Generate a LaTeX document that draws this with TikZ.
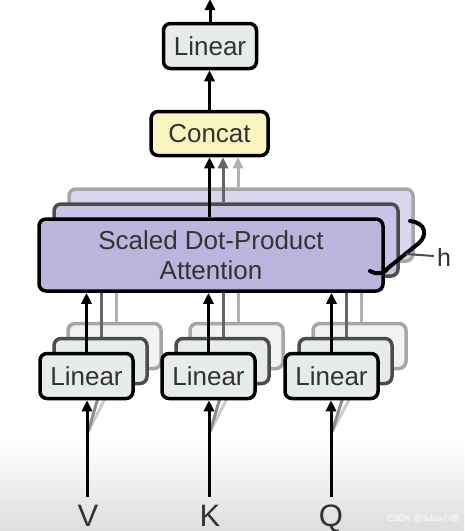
\documentclass[tikz,border=0pt]{standalone}
\usepackage{fontspec}
\setmainfont{Liberation Sans}
\newfontfamily\cjk{Noto Sans CJK SC}
\usetikzlibrary{arrows.meta,calc}
\definecolor{linfill}{HTML}{E7EBEA}
\definecolor{catfill}{HTML}{FAF5BE}
\definecolor{attfill}{HTML}{BBB4DD}
\definecolor{attfillb}{HTML}{C9C3E6}
\definecolor{attfillc}{HTML}{DAD6EF}
\definecolor{txt}{HTML}{333333}
\begin{document}
\begin{tikzpicture}[x=1pt,y=-1pt,
  boxbase/.style={rounded corners=7pt, line width=3.5pt, inner sep=0pt, align=center,
    font=\fontsize{26}{30}\selectfont, text=txt},
  linbox/.style={boxbase, draw=black, fill=linfill, minimum width=93pt, minimum height=45pt},
  linboxb/.style={linbox, draw=black!70},
  linboxc/.style={linbox, draw=black!35, fill=linfill!60},
  catbox/.style={boxbase, draw=black, fill=catfill, minimum width=117pt, minimum height=44pt},
  attbox/.style={boxbase, draw=black, fill=attfill, minimum width=344pt, minimum height=72pt},
  attboxb/.style={attbox, draw=black!70, fill=attfillb},
  attboxc/.style={attbox, draw=black!35, fill=attfillc},
  arr/.style={line width=3pt, -{Triangle[length=11pt,width=10pt]}},
  arrb/.style={arr, draw=black!60},
  arrc/.style={arr, draw=black!30},
  ghost/.style={line width=3pt, draw=black!60},
  ghostc/.style={line width=3pt, draw=black!30},
  lbl/.style={font=\fontsize{31}{31}\selectfont, text=txt, anchor=base, inner sep=0pt}
]
\useasboundingbox (0,0) rectangle (464,531);
\shade[top color=white, bottom color=black!13] (0,440) rectangle (464,531);

% positions
\coordinate (pV) at (86.5,376);
\coordinate (pK) at (208.5,376);
\coordinate (pQ) at (331.5,376);
\coordinate (pA) at (211,255);

% attention shadows
\node[attboxc] (att3) at ($(pA)+(30,-30)$) {};
\node[attboxb] (att2) at ($(pA)+(15,-15)$) {};

% ghost lines from linear shadows up to attention (behind front attention box)
\foreach \p in {pV,pK,pQ}{
  \draw[ghostc] ($(\p)+(30,-52)$) -- ($(\p)+(30,-90)$);
  \draw[ghost]  ($(\p)+(15,-37)$) -- ($(\p)+(15,-90)$);
}

% front attention
\node[attbox] (att) at (pA) {Scaled Dot-Product\\Attention};

% concat and top linear
\node[catbox] (cat) at (209.5,133.5) {Concat};
\node[linbox] (top) at (210,46) {Linear};
\coordinate (out) at (210,-1);

% arrows attention -> concat
\draw[arrc] ($(att3.north)+(-3,0)$) -- ($(cat.south)+(28.5,0)$);
\draw[arrb] ($(att2.north)+(-3,0)$) -- ($(cat.south)+(13.5,0)$);
\draw[arr] (att.north -| cat.south) -- (cat.south);
\draw[arr] (cat.north) -- (cat.north |- top.south);
\draw[arr] (top.north) -- (out);

% inputs
\coordinate (inV) at (87,497);
\coordinate (inK) at (209,497);
\coordinate (inQ) at (331,497);

% linear boxes with shadows
\foreach \p/\n/\i in {pV/V/inV, pK/K/inK, pQ/Q/inQ}{
  \draw[line width=3pt, draw=black!20] ($(\i)+(1,-65)$) -- ($(\p)+(30,0)$);
  \draw[line width=3pt, draw=black!45] ($(\i)+(1,-65)$) -- ($(\p)+(15,10)$);
  \node[linboxc] (lin\n3) at ($(\p)+(28,-30)$) {};
  \node[linboxb] (lin\n2) at ($(\p)+(14,-15)$) {};
  \node[linbox]  (lin\n)  at (\p) {Linear};
}

% arrows linear -> attention
\foreach \n in {V,K,Q}{
  \draw[arr] (lin\n.north) -- (lin\n.north |- att.south);
  \draw[ghost] ($(lin\n2.north)+(1,0)$) -- ($(lin\n2.north |- att.south)+(1,2)$);
  \draw[ghostc] ($(lin\n3.north)+(2,0)$) -- ($(lin\n3.north |- att.south)+(2,2)$);
}

% input arrows
\draw[arr] (inV) -- (inV |- linV.south);
\draw[arr] (inK) -- (inK |- linK.south);
\draw[arr] (inQ) -- (inQ |- linQ.south);

\node[lbl] (V) at (88,526) {V};
\node[lbl] (K) at (210,526) {K};
\node[lbl] (Q) at (331,526) {Q};

% h brace
\draw[line width=4pt, line cap=round] (410,221) .. controls (427,223) and (427,236) .. (419,243) -- (388,268) .. controls (384,274) and (377,275) .. (370,271);
\coordinate (hb) at (406,254);
\node[font=\fontsize{25}{25}\selectfont, text=txt, inner sep=0pt] (h) at (444,257) {h};
\draw[line width=2pt, draw=black!70] (hb) -- ($(h.west)+(-3,-1)$);

% watermark
\node[font=\fontsize{8.5}{9}\selectfont, text=white, inner sep=0pt] (wm) at (423,519) {CSDN @Srlua{\cjk 小谢}};
\end{tikzpicture}
\end{document}
